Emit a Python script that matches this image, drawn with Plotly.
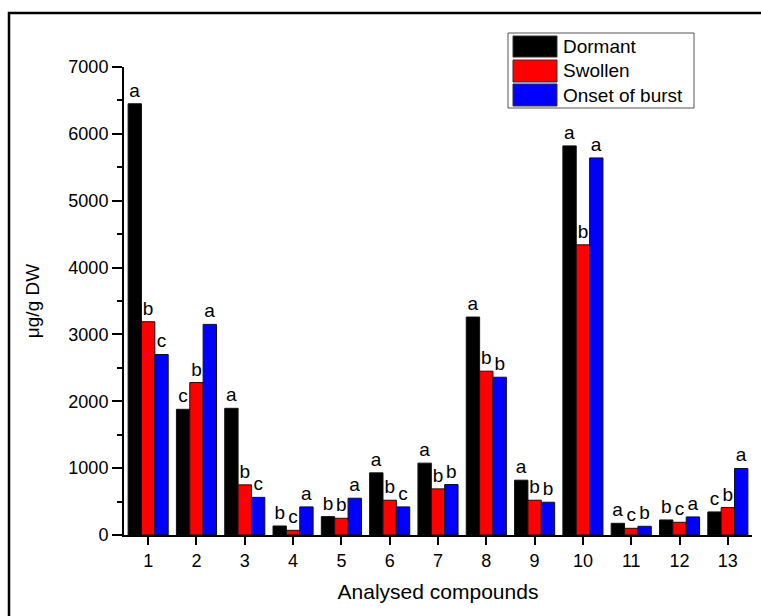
import plotly.graph_objects as go

# ---- data ----
compounds = list(range(1, 14))
compound_labels = [str(c) for c in compounds]
dormant = [6450, 1880, 1895, 135, 275, 930, 1075, 3260, 820, 5820, 175, 225, 345]
swollen = [3190, 2280, 750, 70, 250, 520, 690, 2450, 520, 4340, 100, 190, 410]
onset = [2700, 3150, 563, 420, 550, 420, 755, 2360, 490, 5640, 130, 270, 995]
letters_dormant = ["a", "c", "a", "b", "b", "a", "a", "a", "a", "a", "a", "b", "c"]
letters_swollen = ["b", "b", "b", "c", "b", "b", "b", "b", "b", "b", "c", "c", "b"]
letters_onset = ["c", "a", "c", "a", "a", "c", "b", "b", "b", "a", "b", "a", "a"]
series_names = ["Dormant", "Swollen", "Onset of burst"]
series_colors = ["#000000", "#ff0000", "#0000ff"]
y_ticks = list(range(0, 7001, 1000))

FONT = "Liberation Sans, Arial, Helvetica, sans-serif"
W, H = 761, 616
L, R, T, B = 124, 9, 67, 81
PW, PH = W - L - R, H - T - B


def px(xp):
    return (xp - L) / PW


def py(yp):
    return (H - B - yp) / PH


fig = go.Figure()
for name, vals, letters, col in zip(series_names, [dormant, swollen, onset],
                                    [letters_dormant, letters_swollen, letters_onset],
                                    series_colors):
    fig.add_trace(go.Bar(
        x=compounds, y=vals, name=name, text=letters,
        textposition="outside", cliponaxis=False, constraintext="none",
        textfont=dict(family=FONT, size=19, color="black"),
        marker=dict(color=col, line=dict(color="#111111", width=1)),
        showlegend=False,
    ))

# manual legend (large swatches like the original)
shapes = [dict(type="rect", xref="paper", yref="paper",
               x0=px(508), x1=px(694), y0=py(108), y1=py(33),
               line=dict(color="#555555", width=1), fillcolor="white", layer="above")]
annotations = []
rows = [(36, 57), (60, 82), (84, 106)]
for (top, bot), name, col in zip(rows, series_names, series_colors):
    shapes.append(dict(type="rect", xref="paper", yref="paper",
                       x0=px(513), x1=px(557), y0=py(bot), y1=py(top),
                       line=dict(color="#333333", width=1), fillcolor=col, layer="above"))
    annotations.append(dict(xref="paper", yref="paper", x=px(561), y=py((top + bot) / 2),
                            text=name, showarrow=False, xanchor="left", yanchor="middle",
                            font=dict(family=FONT, size=19, color="black")))

# outer frame (cropped at right/bottom)
shapes.append(dict(type="rect", xref="paper", yref="paper",
                   x0=px(9), x1=px(770), y0=py(625), y1=py(13),
                   line=dict(color="black", width=2.5), fillcolor="rgba(0,0,0,0)", layer="above"))

fig.update_layout(
    width=W, height=H, margin=dict(l=L, r=R, t=T, b=B),
    paper_bgcolor="white", plot_bgcolor="white",
    barmode="group", bargap=0.17, bargroupgap=0,
    font=dict(family=FONT, size=18, color="black"),
    shapes=shapes, annotations=annotations,
)
fig.update_xaxes(
    range=[0.5, 13.5], tickvals=compounds, ticktext=compound_labels,
    showline=True, linecolor="black", linewidth=2, mirror=False,
    ticks="outside", ticklen=8, tickwidth=1.5, tickcolor="black",
    showgrid=False, zeroline=False,
    tickfont=dict(family=FONT, size=18),
    title=dict(text="Analysed compounds", font=dict(family=FONT, size=21), standoff=15),
)
fig.update_yaxes(
    range=[0, 7000], tickvals=y_ticks,
    showline=True, linecolor="black", linewidth=2, mirror=False,
    ticks="outside", ticklen=10, tickwidth=1.5, tickcolor="black",
    minor=dict(dtick=500, ticks="outside", ticklen=5, tickwidth=1.5, tickcolor="black", showgrid=False),
    showgrid=False, zeroline=False,
    tickfont=dict(family=FONT, size=18),
    title=dict(text="μg/g DW", font=dict(family=FONT, size=19), standoff=24),
)

fig.write_html("out.html")
